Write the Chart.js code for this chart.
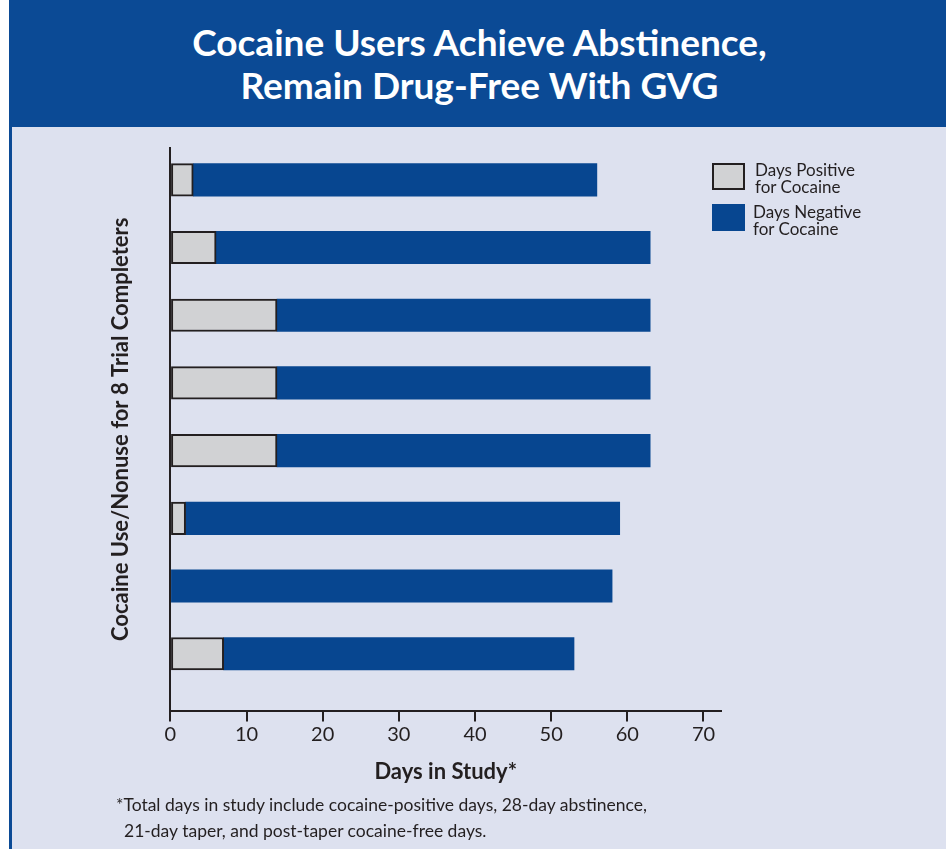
<!DOCTYPE html>
<html>
<head>
<meta charset="utf-8">
<script src="https://cdn.jsdelivr.net/npm/chart.js@4/dist/chart.umd.min.js"></script>
<style>
  body { margin: 0; width: 946px; height: 849px; overflow: hidden; position: relative; background: #fff; font-family: Lato, sans-serif; color: #231f20; }
  #banner { position: absolute; left: 9px; top: 0; width: 937px; height: 127px; background: #0b4a95; color: #fff;
            font-weight: bold; font-size: 37px; line-height: 43px; text-align: center; box-sizing: border-box; padding-top: 20px; padding-left: 4px; }
  #panel { position: absolute; left: 9px; top: 127px; width: 937px; height: 722px; background: #dde1ef; border-left: 3px solid #0b4a95; box-sizing: border-box; }
  #chartBox { position: absolute; left: 0; top: 0; }
  .key { position: absolute; left: 712px; width: 33px; height: 27px; box-sizing: border-box; }
  .keyText { position: absolute; font-size: 17px; line-height: 17px; }
  #note { position: absolute; left: 116px; top: 792px; font-size: 17.5px; line-height: 26px; }
</style>
</head>
<body>
<div id="banner">Cocaine Users Achieve Abstinence,<br>Remain Drug-Free With GVG</div>
<div id="panel"></div>
<canvas id="chartBox" width="946" height="849"></canvas>

<div class="key" style="top:163px;background:#d1d2d4;border:2px solid #231f20;"></div>
<div class="keyText" style="left:755px;top:161px;">Days Positive<br>for Cocaine</div>
<div class="key" style="top:204px;background:#074690;"></div>
<div class="keyText" style="left:753px;top:203px;">Days Negative<br>for Cocaine</div>

<div id="note">*Total days in study include cocaine-positive days, 28-day abstinence,<br><span style="padding-left:8px">21-day taper, and post-taper cocaine-free days.</span></div>

<script>
// one row per trial completer, top to bottom
const completers = [1, 2, 3, 4, 5, 6, 7, 8];
const daysPositive = [3, 6, 14, 14, 14, 2, 0, 7];
const daysNegative = [53, 57, 49, 49, 49, 57, 58, 46];
const dayTicks = [0, 10, 20, 30, 40, 50, 60, 70];

const ink = '#231f20';

var ctx = document.getElementById('chartBox').getContext('2d');
var chart = new Chart(ctx, {
    type: 'bar',
    data: {
        labels: completers,
        datasets: [{
            label: 'Days Positive for Cocaine',
            data: daysPositive,
            backgroundColor: '#d1d2d4',
            borderColor: ink,
            borderWidth: 2,
            borderSkipped: false,
            barThickness: 32.5
        }, {
            label: 'Days Negative for Cocaine',
            data: daysNegative,
            backgroundColor: '#074690',
            borderWidth: 0,
            barThickness: 32.5
        }]
    },
    options: {
        indexAxis: 'y',
        responsive: false,
        animation: false,
        devicePixelRatio: 1,
        layout: { padding: { left: 108, top: 148, right: 225, bottom: 61 } },
        plugins: { legend: { display: false }, tooltip: { enabled: false } },
        scales: {
            x: {
                type: 'linear',
                min: 0,
                max: 72.3,
                stacked: true,
                afterBuildTicks: (scale) => { scale.ticks = dayTicks.map(v => ({ value: v })); },
                grid: { display: true, drawOnChartArea: false, drawTicks: true, tickLength: 11, color: ink, lineWidth: 2 },
                border: { color: ink, width: 2 },
                ticks: { color: ink, padding: 1, font: { family: 'Lato', size: 20 } },
                title: { display: true, text: 'Days in Study*', color: ink,
                         font: { family: 'Lato', size: 22, weight: 'bold' }, padding: { top: 11, bottom: 3 } }
            },
            y: {
                type: 'linear',
                reverse: true,
                offset: false,
                min: 0.53,
                max: 8.84,
                stacked: true,
                grid: { display: false },
                ticks: { display: false },
                border: { color: ink, width: 2 },
                title: { display: true, text: 'Cocaine Use/Nonuse for 8 Trial Completers', color: ink,
                         font: { family: 'Lato', size: 22, weight: 'bold' }, padding: { top: 0, bottom: 28 } }
            }
        }
    }
});
</script>
</body>
</html>
